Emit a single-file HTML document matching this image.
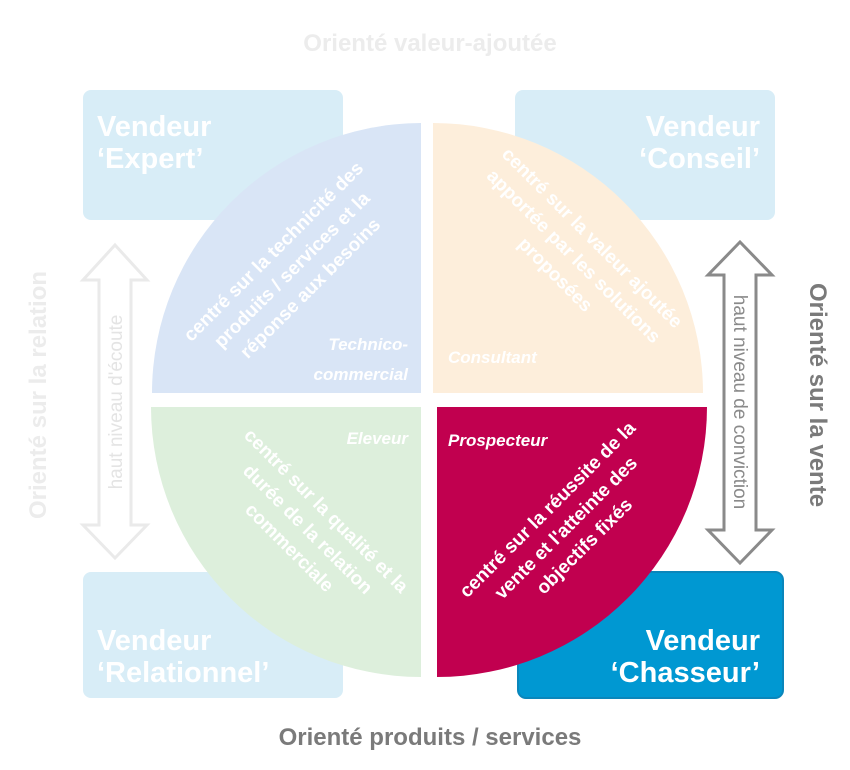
<!DOCTYPE html>
<html><head><meta charset="utf-8"><style>
html,body{margin:0;padding:0;background:#fff;width:850px;height:770px;overflow:hidden}
svg{display:block}
text{font-family:"Liberation Sans",sans-serif;font-weight:bold}
</style></head><body>
<svg width="850" height="770" viewBox="0 0 850 770">
<rect x="83" y="90" width="260" height="130" rx="8" fill="#d8edf7"/>
<rect x="515" y="90" width="260" height="130" rx="8" fill="#d8edf7"/>
<rect x="83" y="572" width="260" height="126" rx="8" fill="#d8edf7"/>
<rect x="518" y="572" width="265" height="126" rx="8" fill="#0098d2" stroke="#0a86bb" stroke-width="2"/>
<g fill="#fff" font-size="29">
<text x="97" y="136">Vendeur</text><text x="97" y="168">‘Expert’</text>
<text x="760" y="136" text-anchor="end">Vendeur</text><text x="760" y="168" text-anchor="end">‘Conseil’</text>
<text x="97" y="650">Vendeur</text><text x="97" y="682">‘Relationnel’</text>
<text x="760" y="650" text-anchor="end">Vendeur</text><text x="760" y="682" text-anchor="end">‘Chasseur’</text>
</g>
<path d="M421,393 L152,393 A270,270 0 0 1 421,123 Z" fill="#d9e5f6"/>
<path d="M433,393 L433,123 A270,270 0 0 1 703,393 Z" fill="#fdeedb"/>
<path d="M421,407 L421,677 A270,270 0 0 1 151,407 Z" fill="#ddefdc"/>
<path d="M437,407 L707,407 A270,270 0 0 1 437,677 Z" fill="#c1004f"/>
<path d="M115,245 L147,280 L131,280 L131,525 L147,525 L115,558 L83,525 L99,525 L99,280 L83,280 Z" fill="none" stroke="#eaeaea" stroke-width="3"/>
<path d="M740,242 L772,275 L756,275 L756,530 L772,530 L740,563 L708,530 L724,530 L724,275 L708,275 Z" fill="#fff" stroke="#8a8a8a" stroke-width="3"/>
<text transform="translate(122,402) rotate(-90)" text-anchor="middle" font-size="19" fill="#e4e4e4" style="font-weight:normal">haut niveau d'écoute</text>
<text transform="translate(734,402) rotate(90)" text-anchor="middle" font-size="19" fill="#8a8a8a" style="font-weight:normal">haut niveau de conviction</text>
<text x="430" y="51" text-anchor="middle" font-size="24" fill="#ececec">Orienté valeur-ajoutée</text>
<text x="430" y="745" text-anchor="middle" font-size="24" fill="#7a7a7a">Orienté produits / services</text>
<text transform="translate(46,395) rotate(-90)" text-anchor="middle" font-size="24" fill="#ececec">Orienté sur la relation</text>
<text transform="translate(810,395) rotate(90)" text-anchor="middle" font-size="24" fill="#7a7a7a">Orienté sur la vente</text>
<g font-size="17" font-style="italic" fill="#fff">
<text x="408" y="350" text-anchor="end">Technico-</text>
<text x="408" y="380" text-anchor="end">commercial</text>
<text x="448" y="363">Consultant</text>
<text x="408" y="444" text-anchor="end">Eleveur</text>
<text x="448" y="446">Prospecteur</text>
</g>
<g font-size="19" fill="#fff" text-anchor="middle">
<g transform="translate(292,270) rotate(-45)">
<text x="0" y="-20">centré sur la technicité des</text>
<text x="0" y="6">produits / services et la</text>
<text x="0" y="32">réponse aux besoins</text></g>
<g transform="translate(568,262) rotate(45)">
<text x="0" y="-28">centré sur la valeur ajoutée</text>
<text x="0" y="-2">apportée par les solutions</text>
<text x="0" y="24">proposées</text></g>
<g transform="translate(302,535) rotate(45)">
<text x="0" y="-28">centré sur la qualité et la</text>
<text x="0" y="-2">durée de la relation</text>
<text x="0" y="24">commerciale</text></g>
<g transform="translate(566,528) rotate(-45)">
<text x="0" y="-20">centré sur la réussite de la</text>
<text x="0" y="6">vente et l'atteinte des</text>
<text x="0" y="32">objectifs fixés</text></g>
</g>
</svg>
</body></html>
